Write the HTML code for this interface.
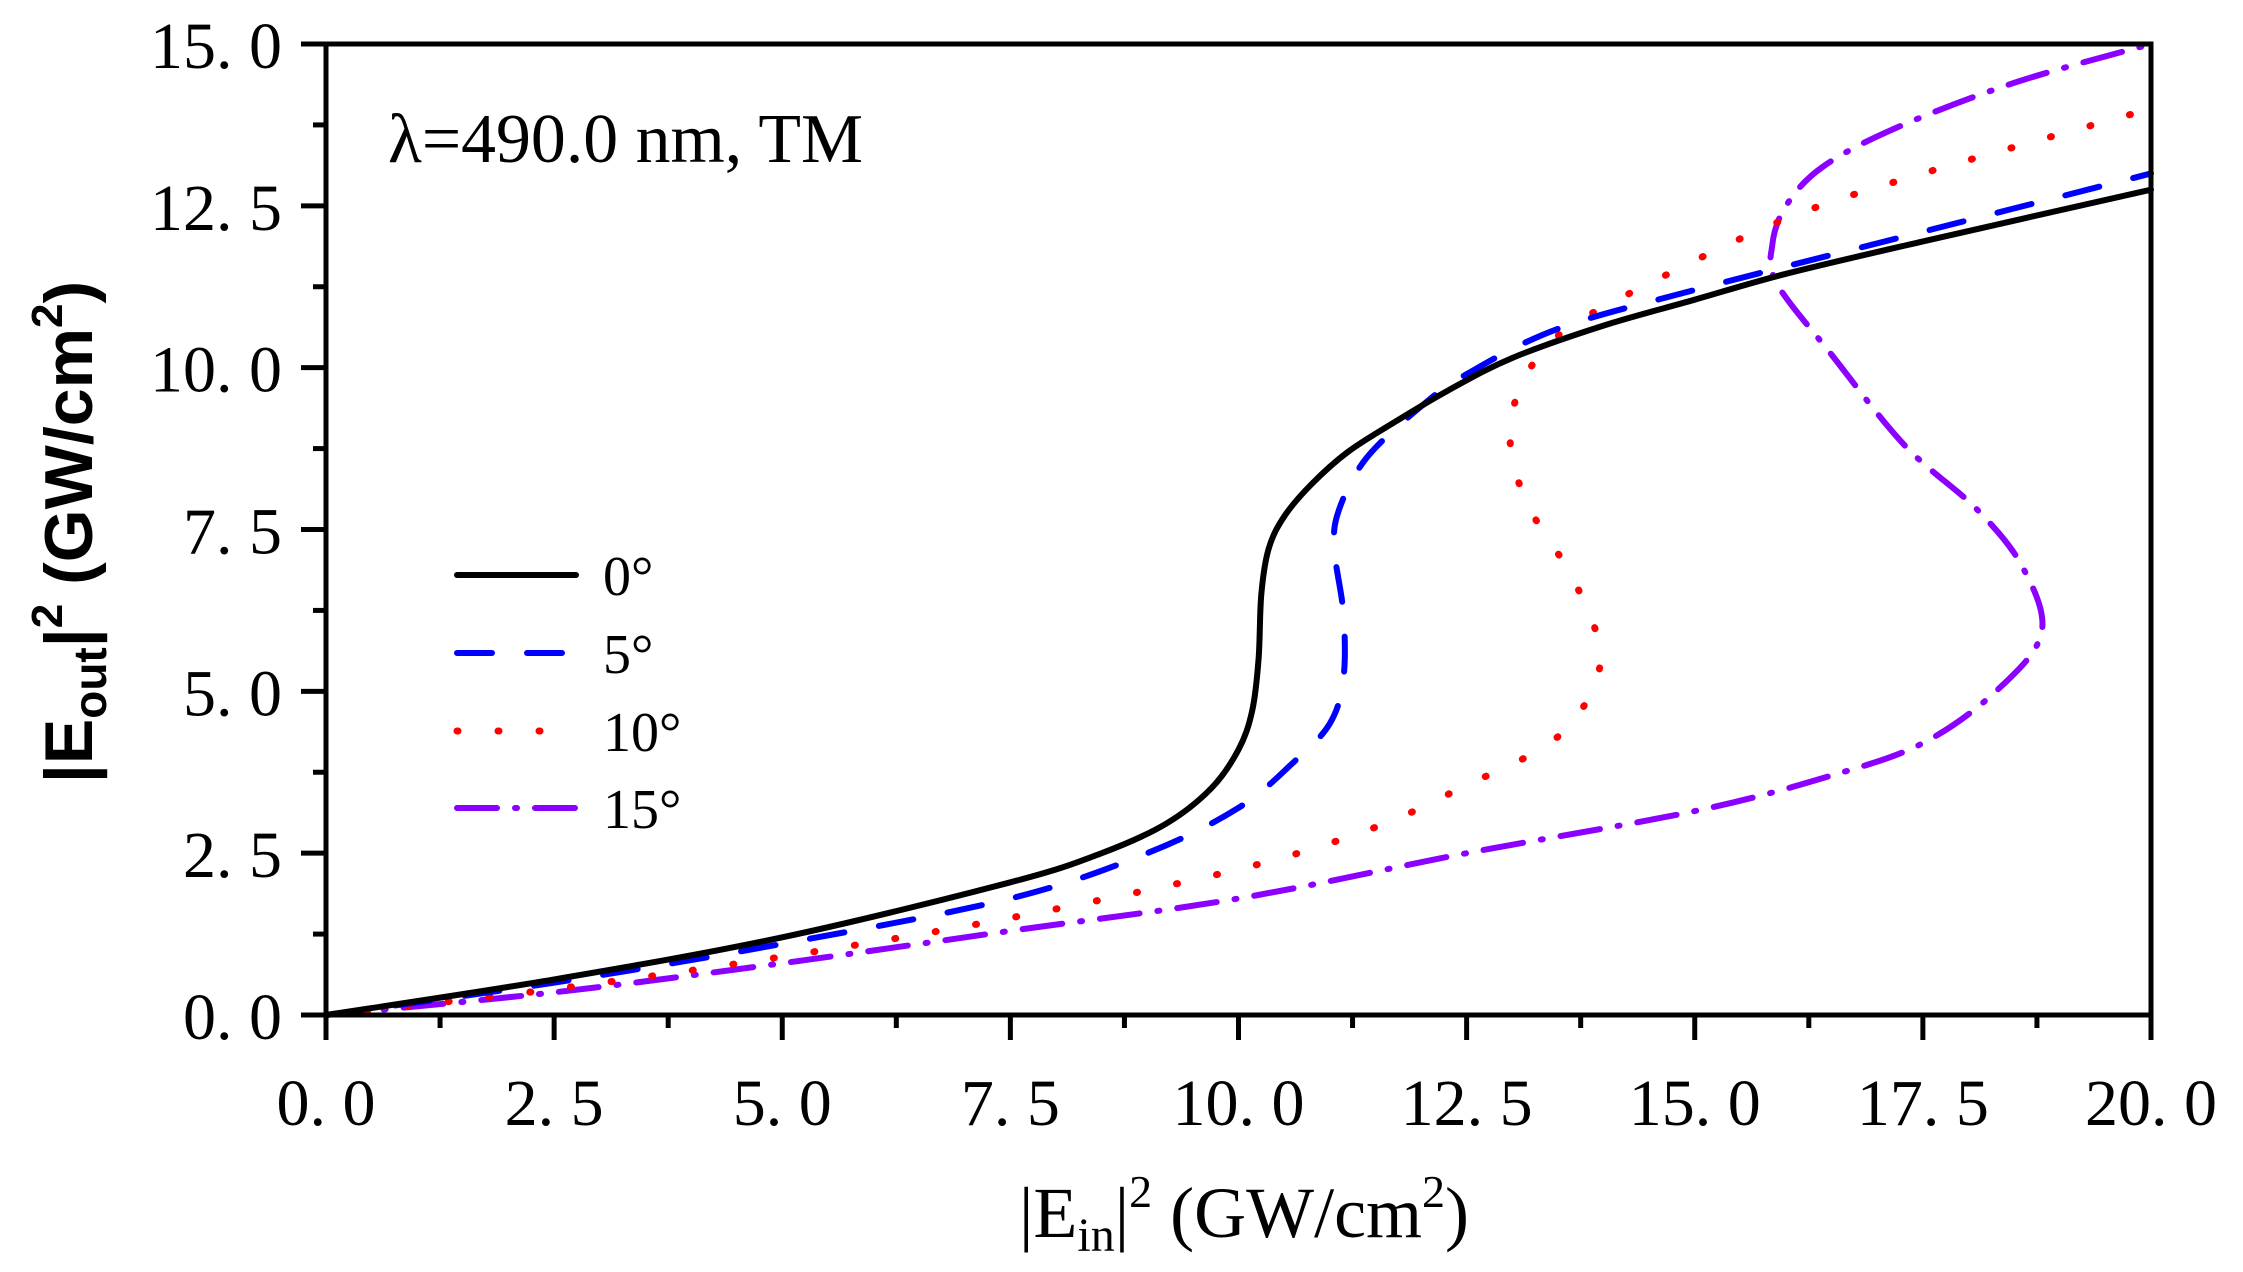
<!DOCTYPE html>
<html><head><meta charset="utf-8"><style>
html,body{margin:0;padding:0;background:#fff;}
svg{display:block;font-family:"Liberation Serif",serif;}
</style></head><body>
<svg id="chart" width="2243" height="1272" viewBox="0 0 2243 1272" xmlns="http://www.w3.org/2000/svg">
<g id="curves"></g>
<g id="axes"></g>
<text x="388" y="162" font-size="70" textLength="475" lengthAdjust="spacingAndGlyphs">λ=490.0 nm, TM</text>
<text x="1244" y="1237" font-size="72" text-anchor="middle">|E<tspan font-size="48" dy="14">in</tspan><tspan dy="-14">|</tspan><tspan font-size="46" dy="-30">2</tspan><tspan dy="30"> (GW/cm</tspan><tspan font-size="46" dy="-30">2</tspan><tspan dy="30">)</tspan></text>
<text transform="translate(92,532) rotate(-90)" font-size="68" text-anchor="middle" font-weight="bold" font-family="'Liberation Sans',sans-serif">|E<tspan font-size="46" dy="14">out</tspan><tspan dy="-14">|</tspan><tspan font-size="44" dy="-30">2</tspan><tspan dy="30"> (GW/cm</tspan><tspan font-size="44" dy="-30">2</tspan><tspan dy="30">)</tspan></text>
<g id="legend"></g>
</svg>
<script>
const xTicks = [0, 2.5, 5, 7.5, 10, 12.5, 15, 17.5, 20];
const yTicks = [0, 2.5, 5, 7.5, 10, 12.5, 15];
const xTickLabels = ["0. 0","2. 5","5. 0","7. 5","10. 0","12. 5","15. 0","17. 5","20. 0"];
const yTickLabels = ["0. 0","2. 5","5. 0","7. 5","10. 0","12. 5","15. 0"];
const seriesNames = ["0°","5°","10°","15°"];
const s0x = [0,2.5,5,7.5,8.5,9.2,9.7,10.0,10.15,10.22,10.25,10.33,10.5,10.8,11.2,11.7,12.3,13,14,15,16,17.5,20];
const s0y = [0,0.55,1.2,2.05,2.5,2.95,3.5,4.1,4.7,5.5,6.5,7.2,7.7,8.2,8.7,9.15,9.65,10.15,10.65,11.05,11.45,11.95,12.75];
const s5x = [0,2.5,5,7.5,9,10,10.6,11,11.15,11.15,11.05,11.1,11.4,12,12.5,13.5,15,17.5,20];
const s5y = [0,0.5,1.1,1.8,2.5,3.2,3.9,4.5,5.2,6.2,7.2,7.8,8.6,9.4,9.9,10.6,11.2,12.1,13.0];
const s10x = [0,2.5,5,7.5,10,11.5,12.5,13.3,13.7,13.95,13.9,13.6,13.2,13.0,13.0,13.2,13.6,14.5,16,17.5,20];
const s10y = [0,0.4,0.9,1.5,2.25,2.9,3.55,4.1,4.6,5.3,6.0,6.9,7.8,8.6,9.3,10.0,10.6,11.3,12.3,13.0,14.0];
const s15x = [0,2.5,5,7.5,10,12.5,15,16.5,17.5,18.3,18.8,18.6,18.1,17.3,16.5,15.9,15.85,16.0,16.4,17.2,18.5,20];
const s15y = [0,0.35,0.8,1.3,1.8,2.5,3.15,3.7,4.2,5.0,5.9,6.9,7.8,8.8,10.2,11.3,11.9,12.5,13.1,13.7,14.4,15.0];

const NS = "http://www.w3.org/2000/svg";
const L = 326, R = 2151, T = 44, B = 1015;
const sx = v => L + (v - 0) / 20 * (R - L);
const sy = v => B - (v - 0) / 15 * (B - T);
function mk(tag, attrs, parent){const e=document.createElementNS(NS,tag);for(const k in attrs)e.setAttribute(k,attrs[k]);parent.appendChild(e);return e;}

const styles = [
 {color:"#000000", dash:"", w:6},
 {color:"#0000ff", dash:"35 35", w:6},
 {color:"#ff0000", dash:"1 40", w:7},
 {color:"#8b00ff", dash:"40 18 2 18", w:6}
];
const allX=[s0x,s5x,s10x,s15x], allY=[s0y,s5y,s10y,s15y];

function pathFrom(xs, ys){
  const p = xs.map((x,i)=>[sx(x), sy(ys[i])]);
  let d = "M"+p[0][0]+","+p[0][1];
  for(let i=0;i<p.length-1;i++){
    const p0=p[Math.max(i-1,0)],p1=p[i],p2=p[i+1],p3=p[Math.min(i+2,p.length-1)];
    const c1=[p1[0]+(p2[0]-p0[0])/6,p1[1]+(p2[1]-p0[1])/6];
    const c2=[p2[0]-(p3[0]-p1[0])/6,p2[1]-(p3[1]-p1[1])/6];
    d+=" C"+c1+" "+c2+" "+p2;
  }
  return d;
}
const cg=document.getElementById("curves");
for(let s=3;s>=0;s--){
  const st=styles[s];
  const e=mk("path",{d:pathFrom(allX[s],allY[s]),fill:"none",stroke:st.color,"stroke-width":st.w,"stroke-dasharray":st.dash,"stroke-linecap":"round","stroke-linejoin":"round"},cg);
  
  
}

const ag=document.getElementById("axes");
const frame=mk("rect",{x:L,y:T,width:R-L,height:B-T,fill:"none",stroke:"#000","stroke-width":5},ag);


xTicks.forEach((v,i)=>{
  const t=mk("line",{x1:sx(v),x2:sx(v),y1:B,y2:B+25,stroke:"#000","stroke-width":5},ag);
  
  
  if(i<xTicks.length-1){
    const m=mk("line",{x1:sx(v+1.25),x2:sx(v+1.25),y1:B,y2:B+13,stroke:"#000","stroke-width":5},ag);
    
    
  }
  const lb=mk("text",{x:sx(v),y:B+110,"font-size":66,"text-anchor":"middle"},ag);
  lb.textContent=xTickLabels[i];
  
  
});
yTicks.forEach((v,i)=>{
  const t=mk("line",{x1:L-25,x2:L,y1:sy(v),y2:sy(v),stroke:"#000","stroke-width":5},ag);
  
  
  if(i<yTicks.length-1){
    const m=mk("line",{x1:L-13,x2:L,y1:sy(v+1.25),y2:sy(v+1.25),stroke:"#000","stroke-width":5},ag);
    
    
  }
  const lb=mk("text",{x:282,y:sy(v)+24,"font-size":66,"text-anchor":"end"},ag);
  lb.textContent=yTickLabels[i];
  
  
});

const lg=document.getElementById("legend");
const legY=[575,653,731,808];
seriesNames.forEach((n,i)=>{
  const st=styles[i];
  const ln=mk("line",{x1:457,x2:576,y1:legY[i],y2:legY[i],stroke:st.color,"stroke-width":st.w,"stroke-dasharray":st.dash,"stroke-linecap":"round"},lg);
  
  
  const tx=mk("text",{x:603,y:legY[i]+20,"font-size":56},lg);
  tx.textContent=n;
  
  
});
</script>
</body></html>
